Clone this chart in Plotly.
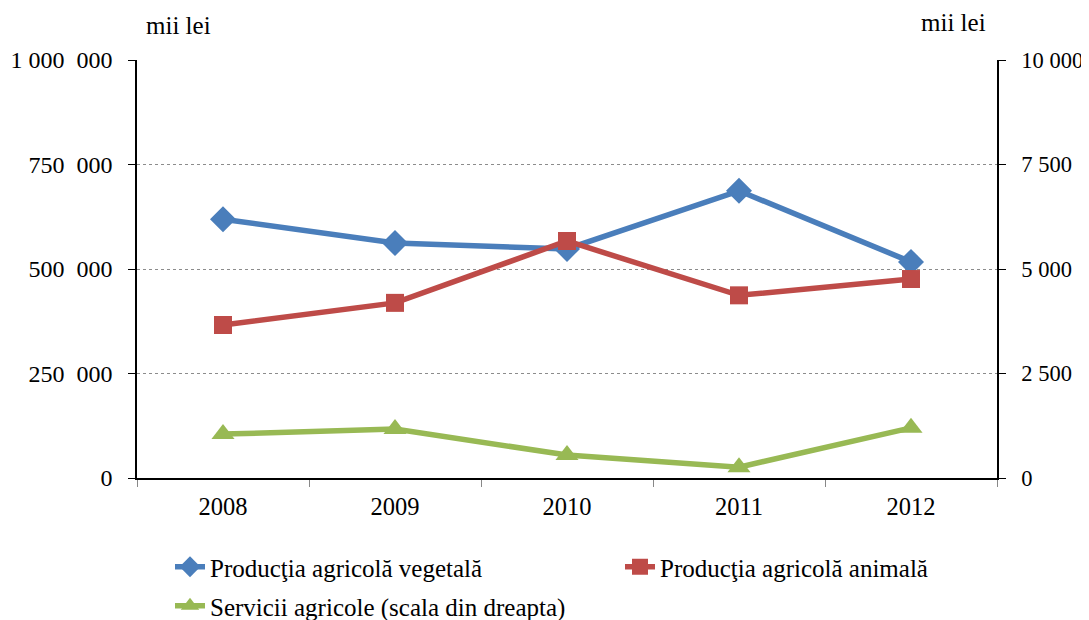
import plotly.graph_objects as go

years = ["2008", "2009", "2010", "2011", "2012"]
vegetala = [619000, 562000, 548000, 687000, 517000]
animala = [366000, 419000, 567000, 437000, 476000]
servicii = [1050, 1170, 550, 260, 1200]

left_ticks = [0, 250000, 500000, 750000, 1000000]
left_labels = ["0", "250  000", "500  000", "750  000", "1 000  000"]
right_ticks = [0, 2500, 5000, 7500, 10000]
right_labels = ["0", "2 500", "5 000", "7 500", "10 000"]

FONT = "Liberation Serif, Times New Roman, serif"
FS = 24.5
LFS = 25

# the page body has an 8px margin, so the figure is drawn 8px right/down
OFF = 8
W, H = 1089, 620
L, T, PW, PH = 137 - OFF, 60 - OFF, 860, 418
R, B = W - L - PW, H - T - PH


def px_to_paper(x, y):
    return (x - OFF - L) / PW, (T + PH + OFF - y) / PH


def px_to_container(x, y):
    return (x - OFF) / W, 1 - (y - OFF) / H


fig = go.Figure()

fig.add_trace(go.Scatter(
    x=years, y=vegetala, mode="lines+markers",
    name="Producţia agricolă vegetală",
    line=dict(color="#4A7EBB", width=5.5),
    marker=dict(symbol="diamond", size=20, color="#4A7EBB"),
    legend="legend"
))

fig.add_trace(go.Scatter(
    x=years, y=animala, mode="lines+markers",
    name="Producţia agricolă animală",
    line=dict(color="#BE4B48", width=5.5),
    marker=dict(symbol="square", size=18, color="#BE4B48"),
    legend="legend3"
))

fig.add_trace(go.Scatter(
    x=years, y=servicii, mode="lines+markers",
    name="Servicii agricole (scala din dreapta)",
    line=dict(color="#98B954", width=5.5),
    marker=dict(symbol="triangle-up", size=20, color="#98B954"),
    yaxis="y2", legend="legend2"
))

# legend boxes: text starts ~40px to the right of the box edge
lx1, ly1 = px_to_container(170, 567)
lx3, ly3 = px_to_container(620, 567)
lx2, ly2 = px_to_container(170, 606)
a1x, a1y = px_to_paper(178, 25)
a2x, a2y = px_to_paper(953, 22)


def legend_at(x, y):
    return dict(
        orientation="h", xref="container", yref="container",
        x=x, y=y, xanchor="left", yanchor="middle",
        font=dict(size=LFS), bgcolor="rgba(0,0,0,0)"
    )


fig.update_layout(
    width=W, height=H,
    margin=dict(l=L, r=R, t=T, b=B),
    paper_bgcolor="white", plot_bgcolor="white",
    font=dict(family=FONT, size=FS, color="black"),
    xaxis=dict(
        type="category", range=[-0.5, 4.5], automargin=False,
        showline=True, linecolor="black", linewidth=1.5,
        ticks="outside", tickson="boundaries", ticklen=7, tickcolor="#888888",
        ticklabelstandoff=6,
        showgrid=False, tickfont=dict(size=FS)
    ),
    yaxis=dict(
        range=[0, 1000000], tickvals=left_ticks, ticktext=left_labels,
        automargin=False,
        showline=True, linecolor="black", linewidth=1.5,
        ticks="outside", ticklen=7, tickcolor="black",
        ticklabelstandoff=11,
        showgrid=True, gridcolor="#8c8c8c", griddash="dot", gridwidth=1,
        zeroline=False, tickfont=dict(size=24)
    ),
    yaxis2=dict(
        range=[0, 10000], tickvals=right_ticks, ticktext=right_labels,
        overlaying="y", side="right", automargin=False,
        showline=True, linecolor="black", linewidth=1.5,
        ticks="outside", ticklen=7, tickcolor="black",
        ticklabelstandoff=11,
        showgrid=False, zeroline=False, tickfont=dict(size=22.5)
    ),
    legend=legend_at(lx1, ly1),
    legend2=legend_at(lx2, ly2),
    legend3=legend_at(lx3, ly3),
    showlegend=True,
    annotations=[
        dict(text="mii lei", x=a1x, y=a1y, xref="paper", yref="paper",
             xanchor="center", yanchor="middle", showarrow=False,
             font=dict(size=LFS)),
        dict(text="mii lei", x=a2x, y=a2y, xref="paper", yref="paper",
             xanchor="center", yanchor="middle", showarrow=False,
             font=dict(size=LFS)),
    ],
)

fig.write_html("out.html")
